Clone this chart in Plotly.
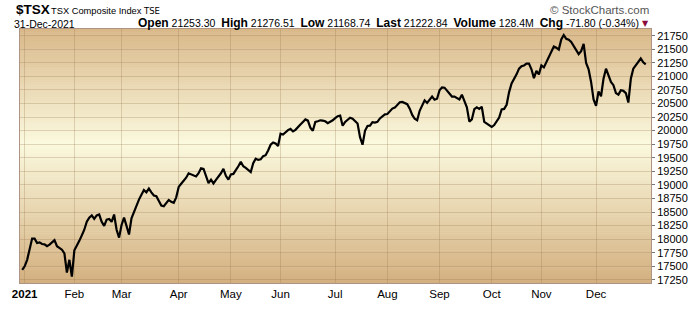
import pandas as pd
import plotly.graph_objects as go

# ---------------- data ----------------
holidays = ['2021-01-01', '2021-02-15', '2021-04-02', '2021-05-24', '2021-07-01',
            '2021-08-02', '2021-09-06', '2021-10-11', '2021-12-27', '2021-12-28']

closes_q1 = [17433, 17500, 17619, 17823, 18010, 18010, 17929, 17940, 17911, 17905,
             17870, 17899, 17940, 17981, 17870, 17835, 17806, 17736, 17385, 17619,
             17309, 17794, 17870, 17969, 18069, 18174, 18320, 18396, 18437, 18373,
             18437, 18454, 18320, 18244, 18361, 18373, 18320, 18454, 18174, 18028,
             18262, 18396, 18244, 18086, 18384, 18507, 18630, 18729, 18817, 18904,
             18863, 18933, 18863, 18805, 18793, 18711, 18618, 18606, 18665, 18723,
             18688, 18671, 18770]
closes_q2 = [18963, 19021, 19074, 19132, 19214, 19196, 19173, 19156, 19214, 19308,
             19296, 19144, 19033, 19097, 19027, 19091, 19144, 19214, 19296, 19167,
             19097, 19191, 19202, 19267, 19343, 19424, 19343, 19313, 19273, 19237,
             19401, 19483, 19460, 19471, 19530, 19547, 19635, 19740, 19781, 19763,
             19717, 19944, 19927, 19974, 20009, 20032, 19985, 20015, 20073, 20114,
             20161, 20207, 20184, 20055, 19997, 20161, 20172, 20190, 20184, 20172,
             20137, 20161, 20190]
closes_q3 = [20231, 20266, 20278, 20091, 20161, 20202, 20237, 20219, 20184, 20132,
             19880, 19740, 19997, 20085, 20091, 20155, 20149, 20161, 20225, 20266,
             20301, 20307, 20348, 20406, 20424, 20470, 20523, 20529, 20511, 20488,
             20406, 20289, 20219, 20190, 20365, 20470, 20558, 20511, 20581, 20628,
             20570, 20587, 20745, 20798, 20792, 20739, 20698, 20628, 20628, 20600,
             20575, 20663, 20558, 20429, 20166, 20207, 20394, 20429, 20400, 20441,
             20161, 20126, 20108]
closes_q4 = [20067, 20102, 20166, 20242, 20389, 20400, 20476, 20710, 20868, 20944,
             21037, 21142, 21189, 21201, 21236, 21236, 21131, 20967, 21101, 21037,
             21201, 21166, 21265, 21353, 21452, 21551, 21528, 21493, 21680, 21762,
             21692, 21674, 21633, 21557, 21470, 21411, 21464, 21598, 21247, 21131,
             20897, 20576, 20459, 20722, 20634, 20955, 21142, 21014, 20897, 20838,
             20692, 20663, 20745, 20733, 20692, 20517, 20955, 21142, 21212, 21277,
             21329, 21259, 21222.84]
closes = closes_q1 + closes_q2 + closes_q3 + closes_q4

month_labels = ['<b>2021</b>', 'Feb', 'Mar', 'Apr', 'May', 'Jun',
                'Jul', 'Aug', 'Sep', 'Oct', 'Nov', 'Dec']
y_ticks = list(range(17250, 21751, 250))

symbol = '$TSX'
name = 'TSX Composite Index'
exchange = 'TSE'
date_label = '31-Dec-2021'
quote_labels = ['Open', 'High', 'Low', 'Last', 'Volume', 'Chg']
quote_values = ['21253.30', '21276.51', '21168.74', '21222.84', '128.4M', '-71.80 (-0.34%)']

# ---------------- dates ----------------
days = [d for d in pd.bdate_range('2020-12-31', '2021-12-31')
        if d.strftime('%Y-%m-%d') not in holidays]
dates = [d.strftime('%Y-%m-%d') for d in days]
n = min(len(dates), len(closes))
dates, closes = dates[:n], closes[:n]

month_starts = []
seen = set()
for d in days[1:]:
    if d.month not in seen:
        seen.add(d.month)
        month_starts.append(d.strftime('%Y-%m-%d'))

# ---------------- layout geometry ----------------
W, H = 700, 312
L, R, T, B = 16, 651, 29, 296

def px(x):
    return (x - L) / (R - L)

def py(y):
    return (B - y) / (B - T)

fig = go.Figure()
fig.add_trace(go.Scatter(x=dates, y=closes, mode='lines',
                         line=dict(color='#000000', width=2.2),
                         hoverinfo='x+y', showlegend=False))

# gradient background as horizontal bands
top_c = (217, 184, 137)
mid_c = (251, 249, 222)
bot_c = (211, 175, 127)
mid_pos = 0.55
shapes = []
N = 134
for k in range(N):
    f = (k + 0.5) / N  # paper y (0 bottom)
    if f >= mid_pos:
        t = (f - mid_pos) / (1 - mid_pos)
        c = [mid_c[j] + (top_c[j] - mid_c[j]) * t for j in range(3)]
    else:
        t = (mid_pos - f) / mid_pos
        c = [mid_c[j] + (bot_c[j] - mid_c[j]) * t for j in range(3)]
    shapes.append(dict(type='rect', xref='paper', yref='paper',
                       x0=0, x1=1, y0=k / N, y1=(k + 1) / N + 0.002,
                       fillcolor='rgb(%d,%d,%d)' % tuple(int(round(v)) for v in c),
                       line=dict(width=0), layer='below'))

font = 'Arial, Liberation Sans, sans-serif'
ann = []
ann.append(dict(x=px(10), y=py(9), xref='paper', yref='paper', xanchor='left', yanchor='middle',
                text='<b>%s</b>' % symbol, font=dict(size=13.5, family=font, color='#000'),
                showarrow=False))
ann.append(dict(x=px(45), y=py(10), xref='paper', yref='paper', xanchor='left', yanchor='middle',
                text=name, font=dict(size=9.3, family=font, color='#000'), showarrow=False))
ann.append(dict(x=px(159), y=py(10), xref='paper', yref='paper', xanchor='right', yanchor='middle',
                text=exchange, font=dict(size=8.5, family='DejaVu Sans, sans-serif', color='#000'),
                showarrow=False))
ann.append(dict(x=px(8), y=py(24), xref='paper', yref='paper', xanchor='left', yanchor='middle',
                text=date_label, font=dict(size=10.5, family=font, color='#000'), showarrow=False))
quote = '  '.join('<b><span style="font-size:12px">%s</span></b> %s' % (a, b)
                  for a, b in zip(quote_labels, quote_values))
ann.append(dict(x=px(641), y=py(23), xref='paper', yref='paper', xanchor='right', yanchor='middle',
                text=quote, font=dict(size=10.5, family=font, color='#000'), showarrow=False))
ann.append(dict(x=px(645.5), y=py(23), xref='paper', yref='paper', xanchor='center', yanchor='middle',
                text='▼', font=dict(size=8, family='DejaVu Sans, sans-serif', color='#8b0a3a'),
                showarrow=False))
ann.append(dict(x=px(651), y=py(9), xref='paper', yref='paper', xanchor='right', yanchor='middle',
                text='© StockCharts.com', font=dict(size=11.5, family=font, color='#555'),
                showarrow=False))

fig.update_layout(
    width=W, height=H,
    margin=dict(l=L, r=W - R, t=T, b=H - B, pad=0),
    paper_bgcolor='#ffffff', plot_bgcolor='rgba(0,0,0,0)',
    shapes=shapes, annotations=ann,
    font=dict(family=font, size=11, color='#000'),
    xaxis=dict(type='category', range=[-0.88, 253.12],
               tickmode='array', tickvals=month_starts, ticktext=month_labels,
               showgrid=True, gridcolor='rgba(150,120,80,0.28)', gridwidth=1,
               showline=True, mirror=True, linecolor='#ad9484', linewidth=1,
               ticks='', tickfont=dict(size=11.5, family=font, color='#000'),
               zeroline=False, fixedrange=True),
    yaxis=dict(side='right', range=[17192, 21873],
               tickmode='array', tickvals=y_ticks, ticktext=[str(v) for v in y_ticks],
               showgrid=True, gridcolor='rgba(150,120,80,0.28)', gridwidth=1,
               showline=True, mirror=True, linecolor='#ad9484', linewidth=1,
               ticks='outside', ticklen=3, tickcolor='#777', tickwidth=1,
               tickfont=dict(size=11, family=font, color='#000'),
               zeroline=False, fixedrange=True),
)

fig.write_html('out.html')
